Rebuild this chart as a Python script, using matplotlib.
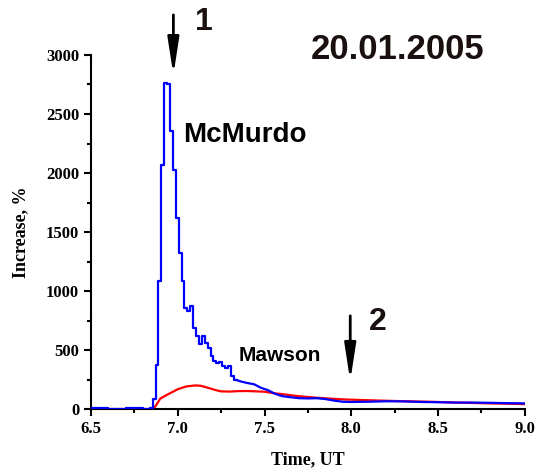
import matplotlib
matplotlib.use("Agg")
import matplotlib.pyplot as plt
from matplotlib.ticker import MultipleLocator

# McMurdo (1-min steps near the peak, coarser in the tail)
mcm_t = [6.50, 6.60, 6.70, 6.80, 6.84, 6.855, 6.872, 6.888, 6.905, 6.922,
         6.939, 6.956, 6.972, 6.989, 7.006, 7.022, 7.039, 7.056, 7.072, 7.089,
         7.106, 7.122, 7.139, 7.156, 7.172, 7.189, 7.206, 7.222, 7.239, 7.256,
         7.272, 7.289, 7.306, 7.322, 7.339, 7.36, 7.40, 7.44, 7.48, 7.52,
         7.56, 7.60, 7.65, 7.70, 7.75, 7.80, 7.85, 7.90, 7.95, 8.00,
         8.10, 8.20, 8.30, 8.40, 8.50, 8.60, 8.70, 8.80, 8.90, 9.00]
mcm_v = [5, 3, 5, 2, 10, 85, 374, 1088, 2065, 2762,
         2750, 2355, 2023, 1615, 1326, 1088, 858, 833, 875, 688,
         620, 552, 620, 560, 518, 450, 408, 391, 400, 365,
         349, 365, 280, 250, 246, 235, 221, 210, 180, 160,
         130, 110, 100, 92, 90, 92, 85, 72, 62, 60,
         62, 66, 65, 60, 58, 55, 55, 53, 50, 48]
n_steps = 34  # points drawn as 1-min steps, the rest as a line

# Mawson
maw_t = [6.50, 6.70, 6.85, 6.87, 6.90, 6.94, 7.00, 7.05, 7.10, 7.13,
         7.17, 7.22, 7.25, 7.30, 7.35, 7.40, 7.45, 7.50, 7.55, 7.60,
         7.69, 7.80, 7.95, 8.07, 8.26, 8.45, 8.64, 8.80, 9.00]
maw_v = [0, 0, 0, 20, 90, 122, 168, 192, 200, 198,
         182, 160, 150, 148, 152, 153, 150, 147, 135, 127,
         110, 96, 82, 76, 68, 62, 54, 48, 42]

x_ticks = [6.5, 7.0, 7.5, 8.0, 8.5, 9.0]
y_ticks = [0, 500, 1000, 1500, 2000, 2500, 3000]

fig = plt.figure(figsize=(5.35, 4.74), dpi=100)
ax = fig.add_axes([0.170, 0.137, 0.811, 0.747])

ax.plot(maw_t, maw_v, color="#ff0000", lw=1.6, zorder=2)
ax.plot(mcm_t[:n_steps + 1], mcm_v[:n_steps + 1], color="#0000ff", lw=1.6,
        drawstyle="steps-post", zorder=3)
ax.plot(mcm_t[n_steps:], mcm_v[n_steps:], color="#0000ff", lw=1.6, zorder=3)

ax.set_xlim(6.5, 9.0)
ax.set_ylim(0, 3000)
ax.set_xticks(x_ticks)
ax.set_xticklabels(["%.1f" % v for v in x_ticks])
ax.set_yticks(y_ticks)
ax.xaxis.set_minor_locator(MultipleLocator(0.25))
ax.yaxis.set_minor_locator(MultipleLocator(250))

for s in ["top", "right"]:
    ax.spines[s].set_visible(False)
for s in ["left", "bottom"]:
    ax.spines[s].set_linewidth(1.5)

ax.tick_params(which="major", direction="out", length=5, width=1.5)
ax.tick_params(which="minor", direction="out", length=3, width=1.5)
for lab in ax.get_xticklabels() + ax.get_yticklabels():
    lab.set_family("Liberation Serif")
    lab.set_fontweight("bold")
    lab.set_fontsize(12)

ax.set_xlabel("Time, UT", family="Liberation Serif", fontweight="bold",
              fontsize=13, labelpad=10)
ax.set_ylabel("Increase, %", family="Liberation Serif", fontweight="bold",
              fontsize=13, labelpad=12)

dark = "#1a1010"
ax.text(7.387, 2322, "McMurdo", family="Liberation Sans", fontweight="bold",
        fontsize=20, ha="center", va="center")
ax.text(7.589, 458, "Mawson", family="Liberation Sans", fontweight="bold",
        fontsize=15, ha="center", va="center")
ax.text(7.151, 3280, "1", family="Liberation Sans", fontweight="bold",
        fontsize=23, ha="center", va="center", color=dark, clip_on=False)
ax.text(8.153, 737, "2", family="Liberation Sans", fontweight="bold",
        fontsize=23, ha="center", va="center", color=dark)
ax.text(8.268, 3043, "20.01.2005", family="Liberation Sans", fontweight="bold",
        fontsize=25, ha="center", va="center", color=dark, clip_on=False)

arrow = dict(arrowstyle="-|>,head_length=1.1,head_width=0.17",
             color="black", lw=2, mutation_scale=20, shrinkA=0, shrinkB=0)
ax.annotate("", xy=(6.975, 2830), xytext=(6.975, 3340), arrowprops=arrow,
            annotation_clip=False)
ax.annotate("", xy=(7.994, 238), xytext=(7.994, 790), arrowprops=arrow,
            annotation_clip=False)

fig.savefig("out.png", dpi=100)
